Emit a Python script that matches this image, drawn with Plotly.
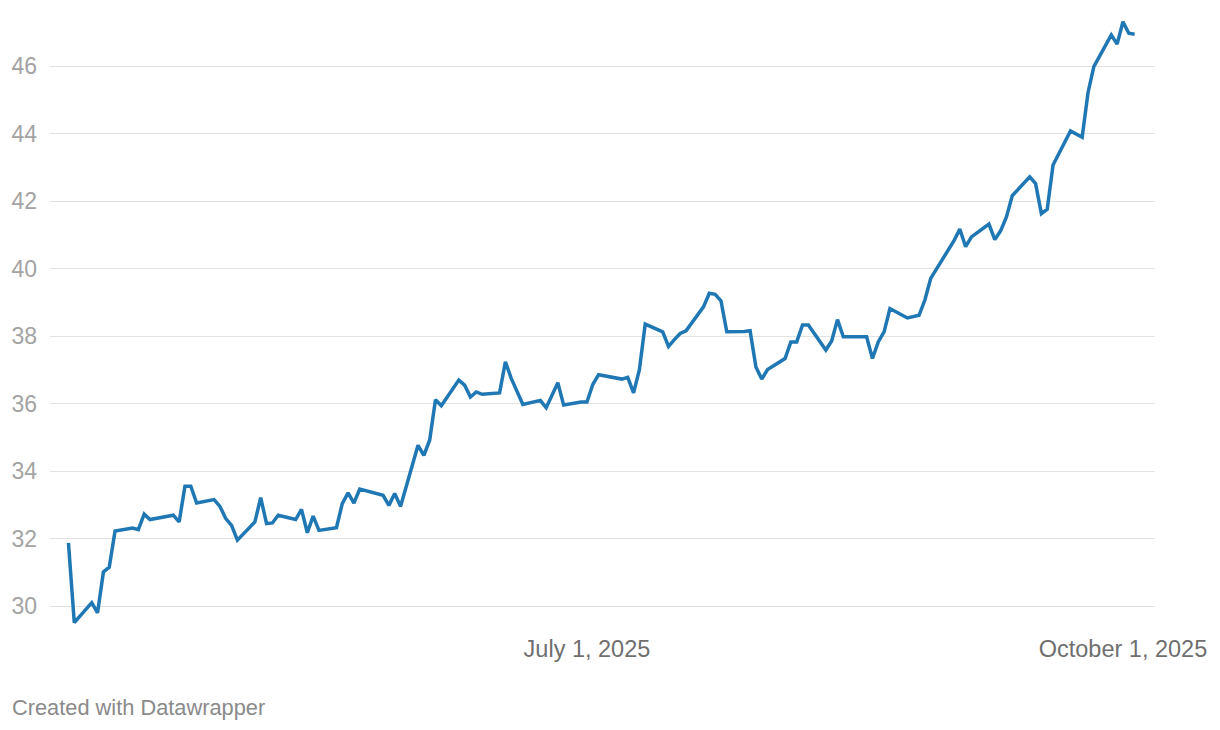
import plotly.graph_objects as go

dates = [
    "2025-04-03", "2025-04-04", "2025-04-07", "2025-04-08", "2025-04-09", "2025-04-10", "2025-04-11",
    "2025-04-14", "2025-04-15", "2025-04-16", "2025-04-17",
    "2025-04-21", "2025-04-22", "2025-04-23", "2025-04-24", "2025-04-25",
    "2025-04-28", "2025-04-29", "2025-04-30", "2025-05-01", "2025-05-02",
    "2025-05-05", "2025-05-06", "2025-05-07", "2025-05-08", "2025-05-09",
    "2025-05-12", "2025-05-13", "2025-05-14", "2025-05-15", "2025-05-16",
    "2025-05-19", "2025-05-20", "2025-05-21", "2025-05-22", "2025-05-23",
    "2025-05-27", "2025-05-28", "2025-05-29", "2025-05-30",
    "2025-06-02", "2025-06-03", "2025-06-04", "2025-06-05", "2025-06-06",
    "2025-06-09", "2025-06-10", "2025-06-11", "2025-06-12", "2025-06-13",
    "2025-06-16", "2025-06-17", "2025-06-18", "2025-06-20",
    "2025-06-23", "2025-06-24", "2025-06-25", "2025-06-26", "2025-06-27",
    "2025-06-30", "2025-07-01", "2025-07-02", "2025-07-03",
    "2025-07-07", "2025-07-08", "2025-07-09", "2025-07-10", "2025-07-11",
    "2025-07-14", "2025-07-15", "2025-07-16", "2025-07-17", "2025-07-18",
    "2025-07-21", "2025-07-22", "2025-07-23", "2025-07-24", "2025-07-25",
    "2025-07-28", "2025-07-29", "2025-07-30", "2025-07-31", "2025-08-01",
    "2025-08-04", "2025-08-05", "2025-08-06", "2025-08-07", "2025-08-08",
    "2025-08-11", "2025-08-12", "2025-08-13", "2025-08-14", "2025-08-15",
    "2025-08-18", "2025-08-19", "2025-08-20", "2025-08-21", "2025-08-22",
    "2025-08-25", "2025-08-26", "2025-08-27", "2025-08-28", "2025-08-29",
    "2025-09-02", "2025-09-03", "2025-09-04", "2025-09-05",
    "2025-09-08", "2025-09-09", "2025-09-10", "2025-09-11", "2025-09-12",
    "2025-09-15", "2025-09-16", "2025-09-17", "2025-09-18", "2025-09-19",
    "2025-09-22", "2025-09-23", "2025-09-24", "2025-09-25", "2025-09-26",
    "2025-09-29", "2025-09-30", "2025-10-01", "2025-10-02", "2025-10-03",
]

values = [
    31.88, 29.52, 30.11, 29.81, 31.02, 31.16, 32.23,
    32.32, 32.27, 32.73, 32.57,
    32.70, 32.50, 33.56, 33.56, 33.06,
    33.16, 32.96, 32.60, 32.40, 31.96,
    32.50, 33.22, 32.45, 32.47, 32.70,
    32.57, 32.87, 32.18, 32.67, 32.25,
    32.33, 33.04, 33.36, 33.06, 33.47,
    33.29, 32.99, 33.34, 32.96,
    34.77, 34.47, 34.92, 36.12, 35.94,
    36.70, 36.55, 36.20, 36.35, 36.28,
    36.32, 37.24, 36.75, 35.98,
    36.10, 35.88, 36.25, 36.62, 35.96,
    36.05, 36.05, 36.57, 36.86,
    36.73, 36.78, 36.32, 37.01, 38.36,
    38.13, 37.70, 37.90, 38.08, 38.16,
    38.87, 39.27, 39.24, 39.05, 38.13,
    38.14, 38.16, 37.09, 36.73, 37.01,
    37.34, 37.83, 37.83, 38.33, 38.33,
    37.59, 37.86, 38.49, 37.98, 37.98,
    37.98, 37.34, 37.83, 38.13, 38.82,
    38.54, 38.58, 38.62, 39.07, 39.71,
    40.83, 41.17, 40.65, 40.94,
    41.32, 40.86, 41.12, 41.53, 42.16,
    42.72, 42.52, 41.63, 41.76, 43.07,
    44.08, 43.98, 43.89, 45.21, 45.98,
    46.92, 46.65, 47.31, 46.97, 46.94,
]

y_ticks = [30, 32, 34, 36, 38, 40, 42, 44, 46]
x_tick_vals = ["2025-07-01", "2025-10-01"]
x_tick_text = ["July 1, 2025", "October 1, 2025"]

FONT = "Liberation Sans, Arial, Helvetica, sans-serif"

fig = go.Figure()
fig.add_trace(go.Scatter(
    x=dates, y=values, mode="lines",
    line=dict(color="#1f77b4", width=3.5),
    hoverinfo="skip",
))

fig.update_layout(
    width=1220, height=730,
    margin=dict(l=50, r=65, t=12, b=100),
    plot_bgcolor="white", paper_bgcolor="white",
    showlegend=False,
    font=dict(family=FONT),
    xaxis=dict(
        range=["2025-03-30T20:00", "2025-10-06T12:00"],
        tickvals=x_tick_vals, ticktext=x_tick_text,
        showgrid=False, zeroline=False, showline=False, ticks="",
        tickfont=dict(size=23.5, color="#6f6f6f"),
        ticklabelstandoff=2,
    ),
    yaxis=dict(
        range=[29.3, 47.6],
        tickvals=y_ticks,
        showgrid=True, gridcolor="#e2e2e2", gridwidth=1,
        zeroline=False, showline=False, ticks="",
        tickfont=dict(size=23, color="#a3a3a3"),
        ticklabelstandoff=12,
    ),
    annotations=[dict(
        text="Created with Datawrapper", xref="paper", yref="paper",
        x=0, y=0, xshift=-40, yshift=-77, xanchor="left", yanchor="middle",
        showarrow=False, font=dict(size=21.8, color="#8a8a8a", family=FONT),
    )],
)

fig.write_html("out.html", config={"displayModeBar": False},
               post_script="document.body.style.margin='0';")
